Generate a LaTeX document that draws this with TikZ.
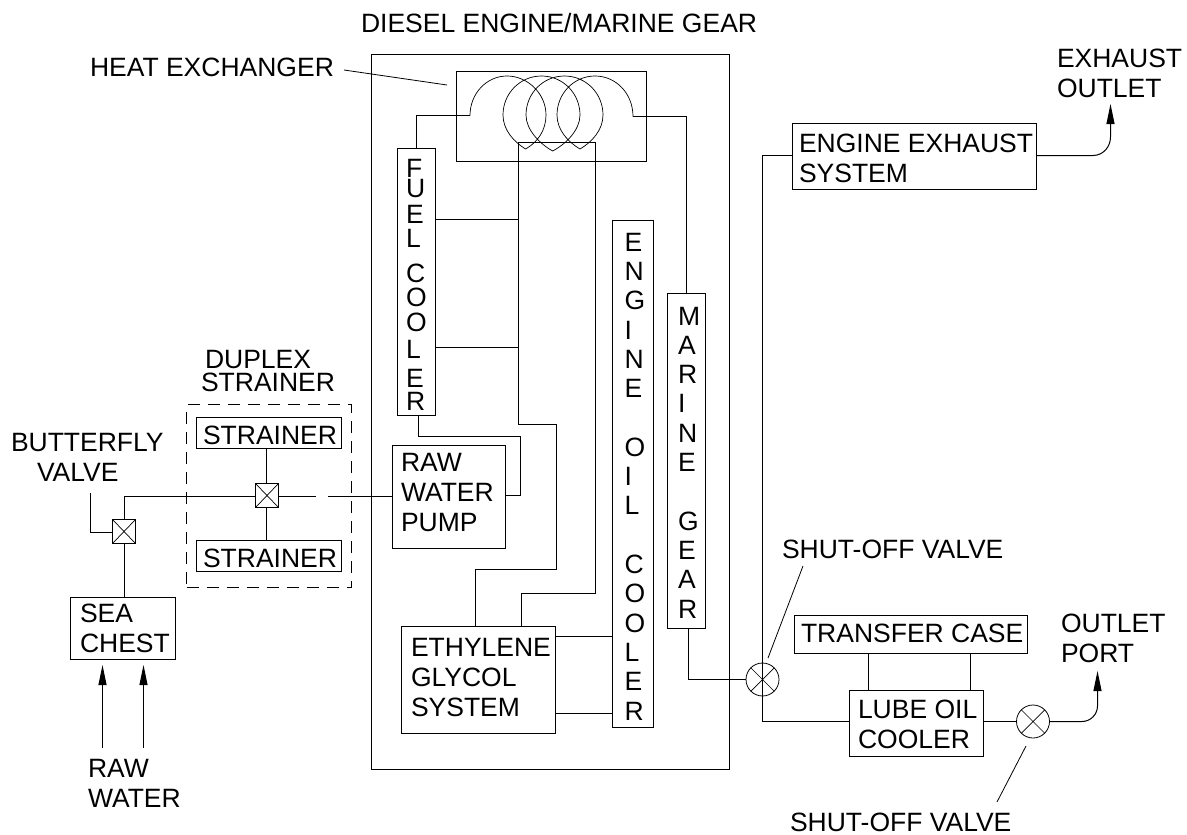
\documentclass[tikz,border=0pt]{standalone}
\usepackage{fontspec}
\setmainfont{Liberation Sans}
\usetikzlibrary{arrows.meta}
\tikzset{
  x=1pt,y=-1pt,
  pipe/.style={line width=1pt,line join=miter},
  thin line/.style={line width=0.7pt},
  boxn/.style={draw,line width=1pt,inner sep=0pt,outer sep=0pt,anchor=north west},
  txt/.style={inner sep=0pt,outer sep=0pt,anchor=base west,align=left,font=\fontsize{26.5}{30}\selectfont},
  tight/.style={font=\fontsize{26.5}{23}\selectfont},
  valvesq/.style={draw,line width=1pt,inner sep=0pt,outer sep=0pt,minimum width=23pt,minimum height=24pt},
  valvec/.style={draw,circle,line width=0.8pt,inner sep=0pt,outer sep=0pt,minimum size=33pt},
  flow/.style={line width=1pt,-{Triangle[length=20pt,width=8pt]}},
  leader/.style={line width=0.8pt},
}
\newcommand{\bx}[5]{\node[boxn,minimum width=#4pt-#2pt,minimum height=#5pt-#3pt] (#1) at (#2,#3) {};}
\begin{document}
\begin{tikzpicture}
\useasboundingbox (0,0) rectangle (1187,835);
\fill[white] (0,0) rectangle (1187,835);

% enclosures and boxes
\bx{engine}{371.5}{54.5}{729.5}{769.5}
\bx{hx}{456.5}{71.5}{646.5}{161.5}
\bx{fuel}{397.5}{148.5}{435.5}{415.5}
\bx{oil}{612.5}{220.5}{653.5}{727.5}
\bx{gear}{667.5}{293.5}{705.5}{628.5}
\bx{pump}{392.5}{445.5}{505.5}{548.5}
\bx{eth}{401.5}{626.5}{555.5}{733.5}
\bx{stra}{196.5}{417.5}{341.5}{448.5}
\bx{strb}{196.5}{540.5}{341.5}{571.5}
\bx{sea}{70.5}{597.5}{175.5}{659.5}
\bx{exh}{792.5}{123.5}{1036.5}{189.5}
\bx{xfer}{794.5}{615.5}{1027.5}{653.5}
\bx{lube}{849.5}{690.5}{983.5}{756.5}
\node[boxn,dashed,dash pattern=on 12pt off 8pt,minimum width=165pt,minimum height=183pt] (duplex) at (186.5,404.5) {};

% valves
\node[valvesq] (vd) at (267,495.5) {};
\node[valvesq] (vb) at (124,531.5) {};
\node[valvec] (vs) at (762.5,679.5) {};
\node[valvec] (vo) at (1033,721.5) {};
\draw[thin line] (vd.north west)--(vd.south east) (vd.north east)--(vd.south west);
\draw[thin line] (vb.north west)--(vb.south east) (vb.north east)--(vb.south west);
\draw[thin line] (vs.north west)--(vs.south east) (vs.north east)--(vs.south west);
\draw[thin line] (vo.north west)--(vo.south east) (vo.north east)--(vo.south west);

% heat exchanger coil
\coordinate (coilL) at (470,115.5);
\coordinate (coilR) at (633,116.5);
\draw[thin line] (coilL)
  .. controls (470,93.5) and (486.6,76) .. (507,76)
  .. controls (527.5,76) and (546,93.5) .. (546,115)
  .. controls (546,130) and (538,142) .. (525.6,149)
  .. controls (514,142) and (503,130) .. (503,115)
  .. controls (503,93.5) and (520,76) .. (541.5,76)
  .. controls (563,76) and (580,93.5) .. (580,115)
  .. controls (580,130) and (566,144) .. (552.7,151)
  .. controls (540,144) and (526,130) .. (526,115)
  .. controls (526,93.5) and (543,76) .. (564.5,76)
  .. controls (586,76) and (603,93.5) .. (603,115)
  .. controls (603,130) and (592,142) .. (580,149)
  .. controls (568,142) and (557,130) .. (557,115)
  .. controls (557,93.5) and (574,76) .. (595,76)
  .. controls (616,76) and (633,93.5) .. (coilR);

% piping
\draw[pipe] (coilL) -- (416.5,115.5) -- (fuel.north);
\draw[pipe] (coilR) -- (686.5,116.5) -- (gear.north);
\draw[pipe] (eth.north -| 475.5,0) -- (475.5,569.5) -- (556.5,569.5) -- (556.5,424.5) -- (518.5,424.5) -- (518.5,142.5) -- (595.5,142.5) -- (595.5,593.5) -- (521.5,593.5) -- (eth.north -| 521.5,0);
\draw[pipe] (fuel.east |- 0,219.5) -- (518.5,219.5);
\draw[pipe] (fuel.east |- 0,347.5) -- (518.5,347.5);
\draw[pipe] (fuel.south -| 418.5,0) -- (418.5,436.5) -- (520.5,436.5) -- (520.5,495.5) -- (pump.east |- 0,495.5);
\coordinate (gapa) at (316,496.5);
\coordinate (gapb) at (328,496.5);
\draw[pipe] (vd.west |- gapa) -- (124.5,496.5) -- (124.5,519.5);
\draw[pipe] (vd.east |- gapa) -- (gapa);
\draw[pipe] (gapb) -- (pump.west |- gapb);
\draw[pipe] (stra.south -| 266.5,0) -- (266.5,483.5);
\draw[pipe] (strb.north -| 266.5,0) -- (266.5,507.5);
\draw[pipe] (124.5,543.5) -- (sea.north -| 124.5,0);
\draw[pipe] (eth.east |- 0,636.5) -- (oil.west |- 0,636.5);
\draw[pipe] (eth.east |- 0,713.5) -- (oil.west |- 0,713.5);
\draw[pipe] (gear.south -| 688.5,0) -- (688.5,679.5) -- (vs.west);
\draw[pipe] (exh.west |- 0,155.5) -- (762.5,155.5) -- (762.5,721.5) -- (lube.west |- 0,721.5);
\draw[pipe] (xfer.south -| 868.5,0) -- (lube.north -| 868.5,0);
\draw[pipe] (xfer.south -| 970.5,0) -- (lube.north -| 970.5,0);
\draw[pipe] (lube.east |- vo.west) -- (vo.west);

% flows
\coordinate (exout) at (1110.5,104);
\coordinate (poout) at (1097.5,671);
\coordinate (rwa) at (102.5,748);
\coordinate (rwb) at (143.5,748);
\draw[flow] (exh.east |- 0,155.5) -- (1093,155.5) .. controls (1103,155.5) and (1110.5,147) .. (1110.5,137) -- (exout);
\draw[flow] (vo.east) -- (1082,721.5) .. controls (1091,721.5) and (1097.5,714) .. (1097.5,706) -- (poout);
\coordinate (rwaT) at (102.5,665);
\coordinate (rwbT) at (143.5,665);
\draw[flow] (rwa) -- (rwaT);
\draw[flow] (rwb) -- (rwbT);

% butterfly leader and leaders
\coordinate (bl) at (90.5,493);
\draw[pipe] (bl) -- (90.5,532.5) -- (vb.west |- 0,532.5);
\coordinate (hl) at (344,70);
\coordinate (hl2) at (447,85);
\draw[leader] (hl) -- (hl2);
\coordinate (sl) at (803,566);
\coordinate (sl2) at (768,658);
\draw[leader] (sl) -- (sl2);
\coordinate (ol) at (1026,746);
\coordinate (ol2) at (997,802);
\draw[leader] (ol) -- (ol2);

% labels (multi-line nodes are anchored on their last baseline)
\node[txt] (tdiesel) at (361,32) {DIESEL ENGINE/MARINE GEAR};
\node[txt] (theat) at (90,76) {HEAT EXCHANGER};
\node[txt] (texh) at (1057,97) {EXHAUST\\OUTLET};
\node[txt] (texs) at (799,182) {ENGINE EXHAUST\\SYSTEM};
\node[txt,tight] (tdup) at (201,391) {\hspace*{4pt}DUPLEX\\STRAINER};
\node[txt] (tbut) at (11,481) {BUTTERFLY\\\hspace*{26pt}VALVE};
\node[txt] (tsa) at (203,444) {STRAINER};
\node[txt] (tsb) at (203,567) {STRAINER};
\node[txt] (tpump) at (401,531) {RAW\\WATER\\PUMP};
\node[txt] (tsea) at (80,652) {SEA\\CHEST};
\node[txt] (teth) at (411,716) {ETHYLENE\\GLYCOL\\SYSTEM};
\node[txt] (traw) at (88,807) {RAW\\WATER};
\node[txt] (txfer) at (801,642) {TRANSFER CASE};
\node[txt] (tlube) at (858,748) {LUBE OIL\\COOLER};
\node[txt] (tout) at (1061,662) {OUTLET\\PORT};
\node[txt] (tsh1) at (782,558) {SHUT-OFF VALVE};
\node[txt] (tsh2) at (790,831) {SHUT-OFF VALVE};
\node[txt,font=\fontsize{26.5}{24}\selectfont] (tfuel) at (406,410) {F\\[-4pt]U\\[2pt]E\\L\\[11pt]C\\O\\[1pt]O\\[3pt]L\\[5pt]E\\[-1pt]R};
\node[txt,font=\fontsize{26.5}{29.3}\selectfont] (toil) at (624.5,720) {E\\N\\G\\I\\N\\E\\[29.3pt]O\\I\\L\\[29.3pt]C\\O\\O\\L\\E\\R};
\node[txt,font=\fontsize{26.5}{29.3}\selectfont] (tgear) at (678,618) {M\\A\\R\\I\\N\\E\\[29.3pt]G\\E\\A\\R};
\end{tikzpicture}
\end{document}
